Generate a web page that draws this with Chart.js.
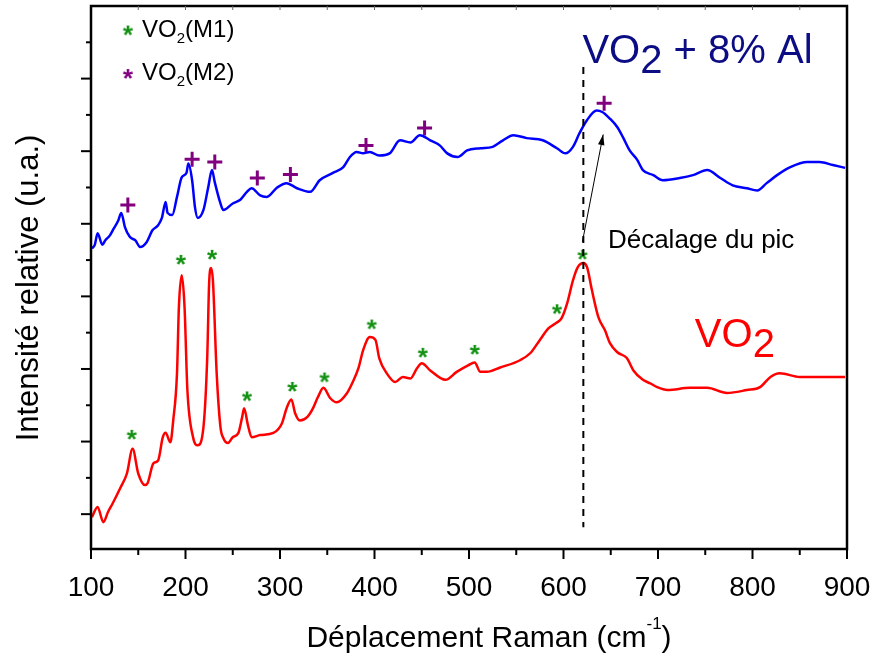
<!DOCTYPE html>
<html lang="fr">
<head>
    <meta charset="UTF-8">
    <title>Spectres Raman VO2</title>
    <style>
        body { margin: 0; background: #fff; }
        canvas { display: block; }
    </style>
    <script src="https://cdn.jsdelivr.net/npm/chart.js"></script>
</head>
<body>
    <canvas id="raman" width="876" height="657"></canvas>
    <script>
        // VO2 (rouge)
        const vo2Shift = [101, 107, 113, 118, 123, 131, 138, 144, 150, 157, 160, 166, 171, 176, 179, 184, 187, 191, 193, 196,
            199, 202, 208, 213, 219, 223, 225, 227, 229, 233, 237, 240, 245, 250, 256, 260, 262, 266, 270, 279,
            293, 302, 307, 312, 316, 321, 329, 335, 340, 346, 353, 360, 371, 377, 383, 388, 395, 401, 405, 413,
            422, 430, 438, 445, 450, 459, 475, 487, 499, 506, 512, 519, 533, 554, 565, 575, 584, 593, 598, 604,
            610, 615, 621, 625, 630, 637, 644, 649, 657, 667, 674, 684, 692, 699, 710, 734, 752, 773, 794, 808,
            819, 829, 850, 871, 898];
        const vo2Intensity = [-0.04, 0.10, -0.11, 0.03, 0.15, 0.36, 0.56, 0.90, 0.56, 0.40, 0.43, 0.70, 0.74, 1.06, 1.12, 0.99, 1.29, 1.94, 2.85, 3.29,
            2.85, 1.71, 1.06, 0.95, 1.20, 2.16, 3.18, 3.39, 3.22, 1.94, 1.20, 1.05, 0.98, 1.06, 1.12, 1.34, 1.46, 1.23, 1.06, 1.09,
            1.12, 1.25, 1.46, 1.58, 1.39, 1.29, 1.34, 1.46, 1.61, 1.74, 1.60, 1.54, 1.67, 1.82, 2.01, 2.26, 2.44, 2.40, 2.15, 1.94,
            1.82, 1.89, 1.87, 2.01, 2.08, 1.98, 1.85, 1.96, 2.05, 2.09, 1.96, 1.96, 2.02, 2.12, 2.22, 2.40, 2.56, 2.64, 2.70, 2.91,
            3.22, 3.40, 3.46, 3.40, 3.09, 2.71, 2.53, 2.36, 2.23, 2.15, 1.98, 1.85, 1.80, 1.75, 1.71, 1.74, 1.74, 1.67, 1.71, 1.75,
            1.89, 1.94, 1.89, 1.89, 1.89];

        // VO2 + 8% Al (bleu)
        const alShift = [101, 104, 107, 112, 115, 120, 123, 129, 132, 136, 141, 147, 152, 159, 165, 171, 175, 179, 181, 186,
            191, 196, 201, 203, 207, 210, 213, 219, 224, 228, 231, 237, 240, 250, 258, 265, 270, 279, 286, 297,
            307, 318, 332, 342, 356, 367, 374, 381, 388, 395, 405, 416, 427, 438, 448, 459, 469, 477, 488, 498,
            512, 525, 536, 547, 561, 578, 593, 602, 610, 617, 625, 635, 641, 649, 657, 663, 670, 678, 684, 695,
            705, 723, 737, 752, 766, 779, 794, 805, 815, 826, 840, 858, 871, 885, 898];
        const alIntensity = [3.66, 3.71, 3.87, 3.71, 3.77, 3.84, 3.91, 4.05, 4.15, 3.95, 3.82, 3.77, 3.68, 3.75, 3.91, 3.98, 4.08, 4.30, 4.15, 4.12,
            4.37, 4.64, 4.70, 4.83, 4.60, 4.23, 4.08, 4.19, 4.50, 4.74, 4.57, 4.28, 4.19, 4.28, 4.33, 4.44, 4.49, 4.39, 4.37, 4.50,
            4.56, 4.49, 4.44, 4.60, 4.70, 4.78, 4.92, 4.99, 4.97, 4.99, 4.94, 4.97, 5.15, 5.12, 5.22, 5.15, 5.08, 4.97, 4.92, 5.01,
            5.04, 5.06, 5.15, 5.22, 5.18, 5.15, 5.04, 4.97, 5.06, 5.25, 5.43, 5.56, 5.54, 5.45, 5.33, 5.19, 5.01, 4.88, 4.74, 4.67,
            4.60, 4.63, 4.67, 4.74, 4.63, 4.53, 4.49, 4.46, 4.56, 4.67, 4.78, 4.85, 4.85, 4.81, 4.77];

        // pics VO2(M1) (*) et VO2(M2) (+)
        const m1Shift = [143, 195, 228, 265, 313, 347, 397, 451, 506, 593, 620];
        const m1Intensity = [1.12, 3.53, 3.60, 1.65, 1.78, 1.91, 2.64, 2.25, 2.29, 2.85, 3.60];
        const m2Shift = [139, 207, 231, 276, 311, 391, 453, 643];
        const m2Intensity = [4.26, 4.89, 4.85, 4.63, 4.68, 5.08, 5.32, 5.66];

        const xTicks = [100, 200, 300, 400, 500, 600, 700, 800, 900];
        const yMajor = [0, 1, 2, 3, 4, 5, 6];

        const FONT = "'Liberation Sans', Arial, sans-serif";

        function asterisque(couleur) {
            const c = document.createElement("canvas");
            c.width = 20; c.height = 20;
            const g = c.getContext("2d");
            g.fillStyle = couleur;
            g.font = "bold 26px " + FONT;
            g.textAlign = "center";
            g.textBaseline = "alphabetic";
            g.fillText("*", 10, 25);
            return c;
        }
        const starM1 = asterisque("#129012");
        const starM2 = asterisque("#800080");

        function pts(xs, ys) {
            return xs.map((x, i) => ({ x: x, y: ys[i] }));
        }

        // texte avec indice: morceaux [texte, decalage, taille]
        function texteChimie(ctx, x, y, morceaux, couleur) {
            ctx.fillStyle = couleur;
            ctx.textAlign = "left";
            ctx.textBaseline = "alphabetic";
            let cx = x;
            morceaux.forEach(m => {
                ctx.font = m[2] + "px " + FONT;
                ctx.fillText(m[0], cx, y + m[1]);
                cx += ctx.measureText(m[0]).width;
            });
        }

        const habillage = {
            id: "habillage",
            afterDatasetsDraw(chart) {
                const ctx = chart.ctx;
                const xs = chart.scales.x, ys = chart.scales.y;
                const a = chart.chartArea;
                const px = v => xs.getPixelForValue(v);
                const py = v => ys.getPixelForValue(v);
                ctx.save();

                // ligne pointillee du pic
                ctx.strokeStyle = "#000";
                ctx.lineWidth = 2;
                ctx.setLineDash([7, 6]);
                ctx.beginPath();
                ctx.moveTo(px(621), py(6.16));
                ctx.lineTo(px(621), py(-0.18));
                ctx.stroke();
                ctx.setLineDash([]);

                // fleche decalage
                const x0 = px(620), y0 = py(3.75), x1 = px(642), y1 = py(5.23);
                ctx.lineWidth = 1;
                ctx.beginPath();
                ctx.moveTo(x0, y0);
                ctx.lineTo(x1, y1);
                ctx.stroke();
                const ang = Math.atan2(y1 - y0, x1 - x0);
                ctx.beginPath();
                ctx.moveTo(x1, y1);
                ctx.lineTo(x1 - 11 * Math.cos(ang - 0.3), y1 - 11 * Math.sin(ang - 0.3));
                ctx.lineTo(x1 - 11 * Math.cos(ang + 0.3), y1 - 11 * Math.sin(ang + 0.3));
                ctx.closePath();
                ctx.fillStyle = "#000";
                ctx.fill();

                // cadre
                ctx.strokeStyle = "#000";
                ctx.lineWidth = 2.5;
                ctx.strokeRect(a.left, a.top, a.right - a.left, a.bottom - a.top);

                // graduations x
                ctx.lineWidth = 2;
                for (let v = 100; v <= 900; v += 50) {
                    const len = v % 100 === 0 ? 10 : 6;
                    ctx.beginPath();
                    ctx.moveTo(px(v), a.bottom);
                    ctx.lineTo(px(v), a.bottom + len);
                    ctx.stroke();
                }
                // graduations y
                for (let v = 0; v <= 6.5; v += 0.5) {
                    const len = Number.isInteger(v) ? 10 : 5;
                    ctx.beginPath();
                    ctx.moveTo(a.left, py(v));
                    ctx.lineTo(a.left - len, py(v));
                    ctx.stroke();
                }
                // petites graduations en haut
                ctx.lineWidth = 1;
                ctx.strokeStyle = "#666";
                for (let v = 150; v < 900; v += 50) {
                    ctx.beginPath();
                    ctx.moveTo(px(v), a.top);
                    ctx.lineTo(px(v), a.top + 4);
                    ctx.stroke();
                }

                // titres des axes
                const titreX = "Déplacement Raman (cm";
                ctx.fillStyle = "#000";
                ctx.textAlign = "left";
                ctx.textBaseline = "alphabetic";
                ctx.font = "30px " + FONT;
                const w = ctx.measureText(titreX).width;
                ctx.font = "17px " + FONT;
                const w2 = ctx.measureText("-1").width;
                ctx.font = "30px " + FONT;
                const wp = ctx.measureText(")").width;
                const gx = 489 - (w + w2 + wp) / 2;
                ctx.fillText(titreX, gx, 647);
                ctx.fillText(")", gx + w + w2, 647);
                ctx.font = "17px " + FONT;
                ctx.fillText("-1", gx + w, 629);

                ctx.save();
                ctx.translate(38, 288);
                ctx.rotate(-Math.PI / 2);
                ctx.textAlign = "center";
                ctx.font = "31px " + FONT;
                ctx.fillText("Intensité relative (u.a.)", 0, 0);
                ctx.restore();

                // legende
                ctx.drawImage(starM1, px(139) - 10, py(6.69) - 10);
                ctx.drawImage(starM2, px(139) - 10, py(6.09) - 10);
                texteChimie(ctx, px(154), py(6.69) + 8, [["VO", 0, 24], ["2", 6, 15], ["(M1)", 0, 24]], "#000");
                texteChimie(ctx, px(154), py(6.09) + 8, [["VO", 0, 24], ["2", 6, 15], ["(M2)", 0, 24]], "#000");

                // etiquettes des courbes
                texteChimie(ctx, px(620), py(6.21), [["VO", 0, 40], ["2", 10, 40], [" + 8% Al", 0, 40]], "#0c0c85");
                texteChimie(ctx, px(739), py(2.30), [["VO", 0, 40], ["2", 10, 40]], "#ff0000");
                texteChimie(ctx, px(647), py(3.66), [["Décalage du pic", 0, 26]], "#000");

                ctx.restore();
            }
        };

        function sansMarge(s) {
            s.paddingLeft = 0; s.paddingRight = 0;
            s.paddingTop = 0; s.paddingBottom = 0;
        }

        new Chart(document.getElementById("raman"), {
            type: "scatter",
            data: {
                datasets: [
                    {
                        label: "VO2",
                        data: pts(vo2Shift, vo2Intensity),
                        showLine: true,
                        borderColor: "#ff0000",
                        borderWidth: 2.5,
                        pointRadius: 0,
                        cubicInterpolationMode: "monotone"
                    },
                    {
                        label: "VO2 + 8% Al",
                        data: pts(alShift, alIntensity),
                        showLine: true,
                        borderColor: "#0000ff",
                        borderWidth: 2.5,
                        pointRadius: 0,
                        cubicInterpolationMode: "monotone"
                    },
                    {
                        label: "VO2(M1)",
                        data: pts(m1Shift, m1Intensity),
                        pointStyle: starM1,
                        pointRadius: 6
                    },
                    {
                        label: "VO2(M2)",
                        data: pts(m2Shift, m2Intensity),
                        pointStyle: "cross",
                        pointRadius: 7.5,
                        borderColor: "#800080",
                        borderWidth: 3
                    }
                ]
            },
            options: {
                responsive: false,
                animation: false,
                layout: { autoPadding: false, padding: { top: 6, right: 29, left: 0, bottom: 0 } },
                plugins: { legend: { display: false }, tooltip: { enabled: false } },
                scales: {
                    x: {
                        type: "linear",
                        min: 100,
                        max: 900,
                        afterFit: s => { s.height = 108; sansMarge(s); },
                        afterBuildTicks: s => { s.ticks = xTicks.map(v => ({ value: v })); },
                        grid: { display: false },
                        border: { display: false },
                        ticks: { color: "#000", padding: 14, maxRotation: 0, font: { family: FONT, size: 28 } }
                    },
                    y: {
                        min: -0.48,
                        max: 7.0,
                        afterFit: s => { s.width = 91; sansMarge(s); },
                        afterBuildTicks: s => { s.ticks = yMajor.map(v => ({ value: v })); },
                        grid: { display: false },
                        border: { display: false },
                        ticks: { display: false }
                    }
                }
            },
            plugins: [habillage]
        });
    </script>
</body>
</html>
